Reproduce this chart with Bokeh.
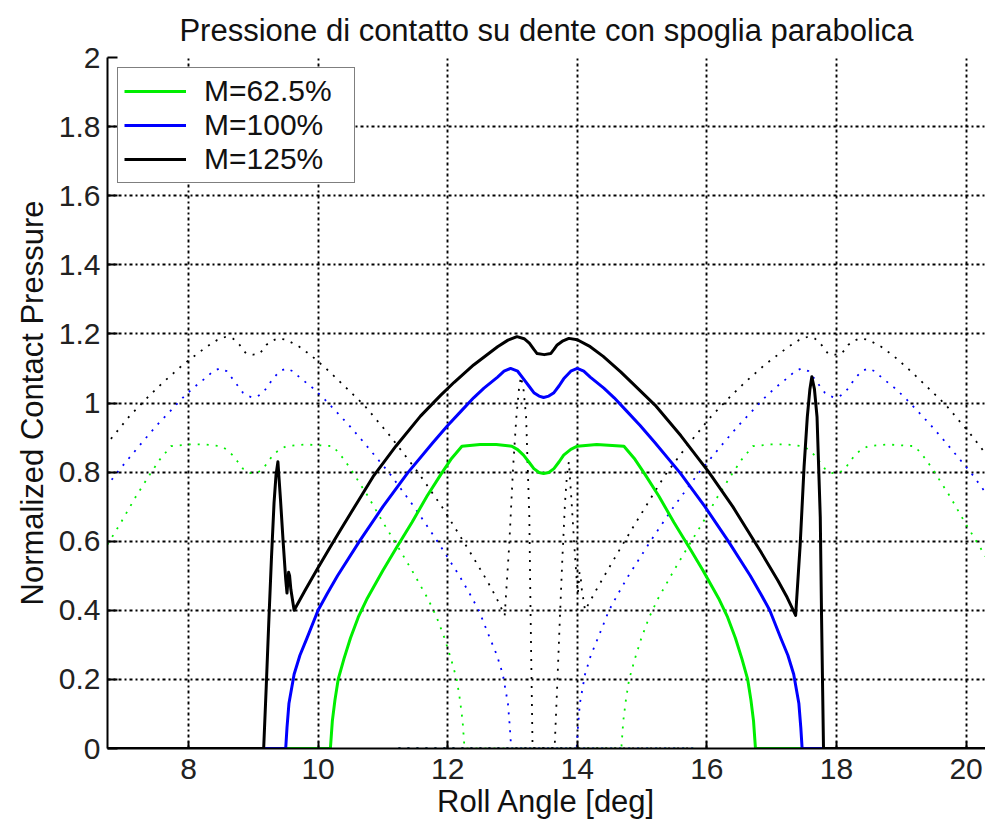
from bokeh.plotting import figure
from bokeh.models import Range1d, FixedTicker, Legend, LegendItem
from bokeh.embed import file_html
from bokeh.resources import INLINE

# ---------------- data ----------------
title_text = "Pressione di contatto su dente con spoglia parabolica"
x_label = "Roll Angle [deg]"
y_label = "Normalized Contact Pressure"

x_ticks = [8, 10, 12, 14, 16, 18, 20]
x_tick_labels = ["8", "10", "12", "14", "16", "18", "20"]
y_ticks = [0, 0.2, 0.4, 0.6, 0.8, 1, 1.2, 1.4, 1.6, 1.8, 2]
y_tick_labels = ["0", "0.2", "0.4", "0.6", "0.8", "1", "1.2", "1.4", "1.6", "1.8", "2"]

series_names = ["M=62.5%", "M=100%", "M=125%"]
series_colors = ["#00ee00", "#0000ff", "#000000"]

# angular pitch between adjacent teeth (dotted curves = neighbouring teeth)
pitch = 4.49

green_x = [6.75, 10.19, 10.22, 10.26, 10.31, 10.4, 10.5, 10.62, 10.76, 11.0, 11.2, 11.45,
           11.68, 11.9, 12.05, 12.22, 12.5, 12.75, 12.99, 13.08, 13.17, 13.25, 13.33, 13.41,
           13.48, 13.56, 13.64, 13.72, 13.79, 13.9, 14.0, 14.3, 14.72, 14.89, 15.04, 15.26,
           15.49, 15.74, 15.94, 16.18, 16.32, 16.44, 16.54, 16.63, 16.68, 16.72, 16.75, 20.3]
green_y = [0, 0, 0.08, 0.14, 0.2, 0.26, 0.32, 0.38, 0.435, 0.515, 0.578, 0.655,
           0.73, 0.795, 0.837, 0.875, 0.88, 0.88, 0.875, 0.865, 0.849, 0.83, 0.81, 0.799,
           0.796, 0.799, 0.81, 0.83, 0.849, 0.866, 0.875, 0.88, 0.875, 0.837, 0.795, 0.73,
           0.655, 0.578, 0.515, 0.435, 0.38, 0.32, 0.26, 0.2, 0.14, 0.08, 0, 0]

blue_x = [6.75, 9.5, 9.52, 9.55, 9.63, 9.72, 9.83, 10.0, 10.14, 10.3, 10.65, 11.0, 11.38,
          11.77, 12.0, 12.2, 12.4, 12.56, 12.77, 12.87, 12.97, 13.08, 13.17, 13.25, 13.33,
          13.41, 13.48, 13.56, 13.64, 13.72, 13.79, 13.9, 14.0, 14.1, 14.2, 14.41, 14.57,
          14.77, 14.97, 15.2, 15.59, 15.97, 16.32, 16.67, 16.83, 16.97, 17.14, 17.25, 17.34,
          17.42, 17.45, 17.47, 20.3]
blue_y = [0, 0, 0.06, 0.13, 0.215, 0.27, 0.32, 0.40, 0.448, 0.50, 0.603, 0.70, 0.797,
          0.885, 0.935, 0.975, 1.015, 1.043, 1.075, 1.092, 1.10, 1.092, 1.07, 1.05, 1.03,
          1.02, 1.016, 1.02, 1.03, 1.05, 1.07, 1.092, 1.10, 1.092, 1.075, 1.043, 1.015,
          0.975, 0.935, 0.885, 0.797, 0.70, 0.603, 0.50, 0.448, 0.40, 0.32, 0.27, 0.215,
          0.13, 0.06, 0, 0]

black_x = [6.75, 9.16, 9.2, 9.24, 9.28, 9.32, 9.35, 9.38, 9.42, 9.46, 9.5, 9.52, 9.545,
           9.56, 9.58, 9.63, 9.8, 9.99, 10.19, 10.35, 10.65, 10.86, 11.2, 11.58, 11.89,
           12.1, 12.4, 12.77, 12.93, 13.07, 13.18, 13.26, 13.33, 13.38, 13.49, 13.59, 13.64,
           13.69, 13.78, 13.87, 14.0, 14.2, 14.4, 14.67, 15.2, 15.6, 16.03, 16.4, 16.83,
           17.1, 17.24, 17.37, 17.44, 17.5, 17.55, 17.59, 17.62, 17.66, 17.7, 17.75, 17.77,
           17.8, 20.3]
black_y = [0, 0, 0.18, 0.37, 0.55, 0.71, 0.79, 0.83, 0.72, 0.60, 0.49, 0.45, 0.51,
           0.50, 0.46, 0.40, 0.458, 0.52, 0.584, 0.634, 0.726, 0.79, 0.875, 0.962, 1.022,
           1.06, 1.11, 1.163, 1.182, 1.192, 1.186, 1.173, 1.155, 1.143, 1.14, 1.143, 1.155,
           1.168, 1.18, 1.187, 1.183, 1.163, 1.135, 1.09, 0.994, 0.905, 0.80, 0.70, 0.57,
           0.485, 0.437, 0.385, 0.59, 0.815, 0.96, 1.04, 1.076, 1.04, 0.96, 0.67, 0.38,
           0, 0]

series_x = [green_x, blue_x, black_x]
series_y = [green_y, blue_y, black_y]

# ---------------- figure ----------------
FONT = "Liberation Sans"

p = figure(width=985, height=824, output_backend="svg", toolbar_location=None,
           x_range=Range1d(6.75, 20.3), y_range=Range1d(0, 2),
           min_border_left=107, min_border_right=0, min_border_top=57, min_border_bottom=76)
p.outline_line_color = None
p.background_fill_color = "white"
p.border_fill_color = "white"

p.title.text = title_text
p.title.align = "center"
p.title.text_font = FONT
p.title.text_font_size = "31px"
p.title.text_font_style = "normal"
p.title.text_color = "#111111"
p.title.standoff = 19

for ax, ticks, labels, lab in ((p.xaxis, x_ticks, x_tick_labels, x_label),
                               (p.yaxis, y_ticks, y_tick_labels, y_label)):
    ax.ticker = FixedTicker(ticks=ticks)
    ax.major_label_overrides = dict(zip(ticks, labels))
    ax.axis_label = lab
    ax.axis_label_text_font = FONT
    ax.axis_label_text_font_size = "31px"
    ax.axis_label_text_font_style = "normal"
    ax.axis_label_text_color = "#111111"
    ax.major_label_text_font = FONT
    ax.major_label_text_font_size = "30px"
    ax.major_label_text_color = "#222222"
    ax.axis_line_color = "black"
    ax.axis_line_width = 2
    ax.major_tick_line_color = "black"
    ax.major_tick_line_width = 2
    ax.major_tick_out = 0
    ax.minor_tick_line_color = None

p.yaxis.major_tick_in = 10
p.xaxis.major_tick_in = 7
p.yaxis.major_label_standoff = 7
p.xaxis.major_label_standoff = 10
p.yaxis.axis_label_standoff = 6
p.xaxis.axis_label_standoff = 2

for g in (p.xgrid, p.ygrid):
    g.grid_line_color = "black"
    g.grid_line_width = 1.9
    g.grid_line_dash = "3 3 2 3"
    g.grid_line_alpha = 1.0
p.xgrid.ticker = FixedTicker(ticks=x_ticks)
p.ygrid.ticker = FixedTicker(ticks=y_ticks)

# dotted curves of the neighbouring teeth
for xs, ys, c in zip(series_x, series_y, series_colors):
    for shift in (-pitch, pitch):
        p.line([x + shift for x in xs], ys, line_color=c, line_width=1.8,
               line_dash="2 7")

# solid curves
renderers = []
for xs, ys, c in zip(series_x, series_y, series_colors):
    r = p.line(xs, ys, line_color=c, line_width=3, line_join="round")
    renderers.append(r)

legend = Legend(items=[LegendItem(label=n, renderers=[r]) for n, r in zip(series_names, renderers)],
                location="top_left", margin=10, padding=6, spacing=0,
                glyph_width=62, glyph_height=30, label_standoff=18, label_width=144,
                label_text_font=FONT, label_text_font_size="30px", label_text_color="#111111",
                border_line_color="black", border_line_width=1.5,
                background_fill_color="white", background_fill_alpha=1.0)
p.add_layout(legend)

open("out.html", "w").write(file_html(p, INLINE))
